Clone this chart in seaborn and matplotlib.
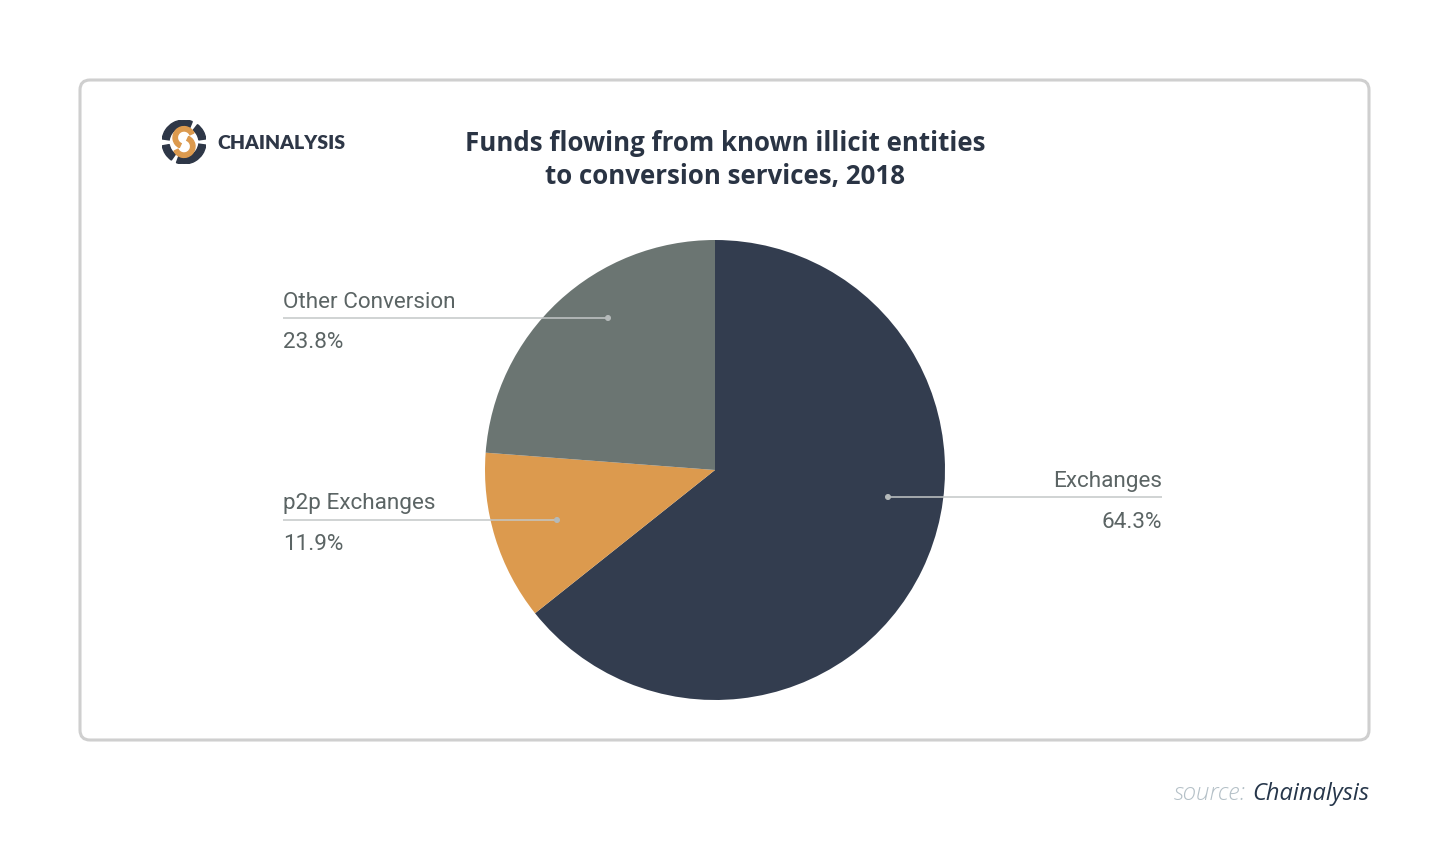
import matplotlib
matplotlib.use("Agg")
import matplotlib.pyplot as plt
import seaborn as sns
from matplotlib.patches import FancyBboxPatch, Wedge, Circle

# ---- data ----
categories = ["Exchanges", "p2p Exchanges", "Other Conversion"]
shares = [64.3, 11.9, 23.8]
pct_labels = ["64.3%", "11.9%", "23.8%"]
colors = ["#333d4f", "#dc9a4e", "#6b7572"]

title = "Funds flowing from known illicit entities\nto conversion services, 2018"

sns.set_theme(style="white")
plt.rcParams["font.family"] = ["Roboto", "DejaVu Sans"]

W, H = 1450, 860
fig = plt.figure(figsize=(W / 100, H / 100), dpi=100)
fig.patch.set_facecolor("white")

# background axes (frame)
bg = fig.add_axes([0, 0, 1, 1], zorder=0)
bg.set_xlim(0, W); bg.set_ylim(H, 0); bg.axis("off")
frame = FancyBboxPatch((80, 80), 1289, 660,
                       boxstyle="round,pad=0,rounding_size=10",
                       facecolor="white", edgecolor="#cfcfcf", linewidth=2.2)
bg.add_patch(frame)

# pie axes
cx, cy, r = 715, 470, 230
pax = fig.add_axes([(cx - r) / W, (H - cy - r) / H, 2 * r / W, 2 * r / H], zorder=1)
pax.pie(shares, colors=colors, startangle=90, counterclock=False,
        wedgeprops=dict(linewidth=0))
pax.set_xlim(-1, 1); pax.set_ylim(-1, 1)
pax.axis("off")

# overlay axes for annotations
ov = fig.add_axes([0, 0, 1, 1], zorder=2)
ov.set_xlim(0, W); ov.set_ylim(H, 0); ov.axis("off")
ov.patch.set_alpha(0)

label_color = "#5b6464"
line_color = "#c3c7c7"
# layout: (line_y, line_x0, line_x1, dot_x, text_x, ha)
layout = {
    "Exchanges": (497, 888, 1162, 888, 1162, "right"),
    "p2p Exchanges": (520, 283, 557, 557, 283, "left"),
    "Other Conversion": (318, 283, 608, 608, 283, "left"),
}
for cat, pct in zip(categories, pct_labels):
    ly, x0, x1, dx, tx, ha = layout[cat]
    ov.plot([x0, x1], [ly, ly], color=line_color, lw=1.1, solid_capstyle="butt")
    ov.add_patch(Circle((dx, ly), 2.3, color="#b5baba", zorder=3))
    ov.text(tx, ly - 10.5, cat, ha=ha, va="baseline", fontsize=16.2,
            color=label_color)
    ov.text(tx, ly + 30.5, pct, ha=ha, va="baseline", fontsize=16.2,
            color=label_color)

# title
t1, t2 = title.split("\n")
tfont = dict(ha="center", va="baseline", fontsize=18.6, fontweight="bold",
             color="#2a3444", family=["Open Sans", "DejaVu Sans"])
ov.text(725, 151, t1, **tfont)
ov.text(725, 184, t2, **tfont)

# logo (own axes, y up)
dark = "#2e3747"
orange = "#dc9a4e"
lg = fig.add_axes([162 / W, (H - 164) / H, 44 / W, 44 / H], zorder=3)
lg.set_xlim(-1, 1); lg.set_ylim(-1, 1); lg.axis("off")
for a0, a1 in [(68, 172), (190, 235), (250, 352), (8, 52)]:
    lg.add_patch(Wedge((0, 0), 1.0, a0, a1, width=0.32, color=dark))
lg.add_patch(Wedge((0.0, 0.2), 0.5, 25, 245, width=0.2, color=orange))
lg.add_patch(Wedge((0.0, -0.2), 0.5, 205, 65, width=0.2, color=orange))
ov.text(217, 149, "CHAINALYSIS", ha="left", va="baseline", fontsize=14,
        fontweight="heavy", color=dark, family=["Lato", "DejaVu Sans"])

# source
ov.text(1369, 800, "Chainalysis", ha="right", va="baseline", fontsize=17,
        style="italic", color="#26364a", family=["Open Sans", "DejaVu Sans"])
ov.text(1246, 800, "source:", ha="right", va="baseline", fontsize=17.5,
        style="italic", fontweight="light", color="#b4c0c7",
        family=["Open Sans", "DejaVu Sans"])

fig.savefig("out.png", dpi=100, facecolor="white")
